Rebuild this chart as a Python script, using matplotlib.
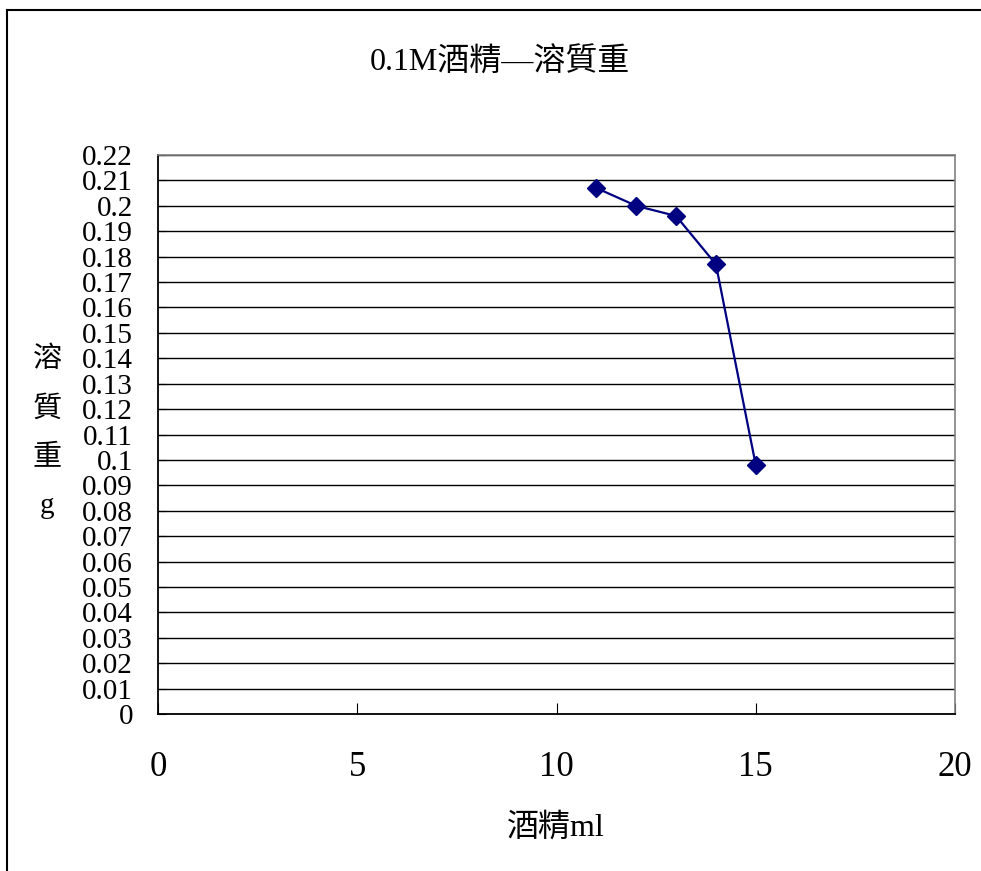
import matplotlib.pyplot as plt
from matplotlib.lines import Line2D

plt.rcParams['font.family'] = ['Liberation Serif', 'Noto Sans CJK TC', 'DejaVu Sans']

# 酒精 ml vs 溶質重 g
alcohol_ml = [11, 12, 13, 14, 15]
solute_g = [0.207, 0.200, 0.196, 0.177, 0.098]

x_ticks = [0, 5, 10, 15, 20]
y_ticks = [i / 100 for i in range(0, 23)]
y_labels = ['0' if v == 0 else ('%.2f' % v).rstrip('0') for v in y_ticks]

fig = plt.figure(figsize=(9.81, 8.71), dpi=100)
ax = fig.add_axes([158 / 981, 1 - 714 / 871, (955 - 158) / 981, (714 - 155) / 871])

ax.plot(alcohol_ml, solute_g, color='#000080', lw=1.6, marker='D', markersize=9,
        markerfacecolor='#000080', markeredgecolor='#000080', zorder=3)

ax.set_xlim(0, 20)
ax.set_ylim(0, 0.22)
ax.set_xticks(x_ticks)
ax.set_xticklabels([str(v) for v in x_ticks], fontsize=25)
ax.set_yticks(y_ticks)
ax.set_yticklabels(y_labels, fontsize=21)
ax.tick_params(axis='x', direction='in', length=8, pad=27, width=0.8)
ax.tick_params(axis='y', direction='in', length=6, pad=18, width=0.8)
ax.yaxis.grid(True, color='black', lw=1.0)
ax.set_axisbelow(True)

for s in ['left', 'bottom']:
    ax.spines[s].set_color('black')
    ax.spines[s].set_linewidth(1.3)
for s in ['top', 'right']:
    ax.spines[s].set_color('#808080')
    ax.spines[s].set_linewidth(1.2)

fig.text(500 / 981, 1 - 62 / 871, '0.1M酒精—溶質重', ha='center', va='center', fontsize=23)
fig.text(556 / 981, 1 - 828 / 871, '酒精ml', ha='center', va='center', fontsize=23)
fig.text(47 / 981, 1 - 433 / 871, '溶\n質\n重\ng', ha='center', va='center',
         fontsize=21, linespacing=2.1)

# outer frame: only top and left edges are visible
fig.add_artist(Line2D([7 / 981, 1], [1 - 10 / 871, 1 - 10 / 871],
                      transform=fig.transFigure, color='black', lw=1.5))
fig.add_artist(Line2D([7 / 981, 7 / 981], [0, 1 - 10 / 871],
                      transform=fig.transFigure, color='black', lw=1.5))

fig.savefig('out.png', dpi=100)
